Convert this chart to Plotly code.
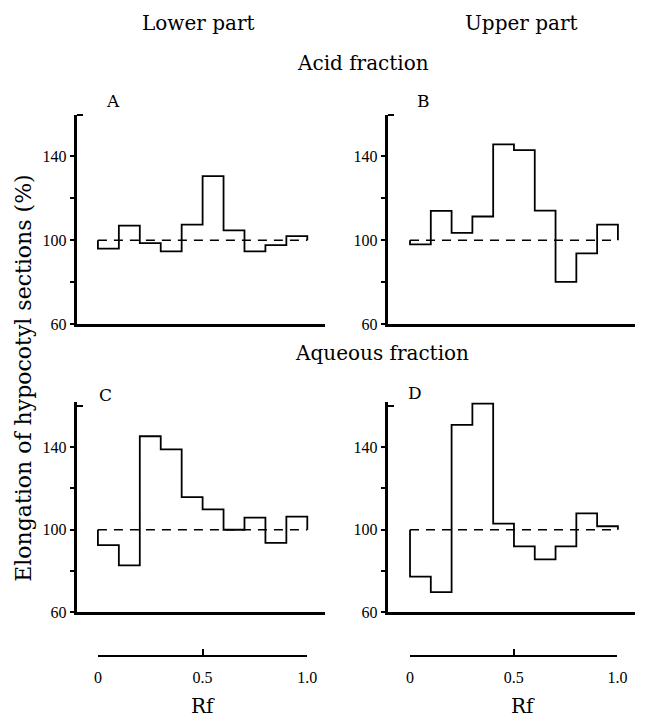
import plotly.graph_objects as go

# ---------------- data ----------------
rf_edges = [0.0, 0.1, 0.2, 0.3, 0.4, 0.5, 0.6, 0.7, 0.8, 0.9, 1.0]
control = 100

acid_lower = [96, 107, 98.6, 94.7, 107.4, 130.6, 104.7, 94.7, 97.6, 101.9]      # A
acid_upper = [98, 114, 103.5, 111.3, 145.8, 143, 114.1, 80.1, 93.7, 107.4]      # B
aqueous_lower = [92.5, 82.7, 145.3, 138.9, 115.8, 109.9, 100, 105.9, 93.6, 106.4]  # C
aqueous_upper = [77.3, 69.8, 150.8, 161.1, 103, 91.9, 85.6, 91.9, 107.9, 101.7]   # D

y_tickvals = [60, 80, 100, 120, 140]
y_ticktext = ["60", "", "100", "", "140"]
rf_tickvals = [0, 0.5, 1.0]
rf_ticktext = ["0", "0.5", "1.0"]

W, H = 647, 725
def px(x):
    return x / W
def py(y):
    return 1 - y / H

SERIF = "DejaVu Serif"
TICKFONT = dict(family="Liberation Serif", size=16, color="black")

fig = go.Figure()

panels = [
    (acid_lower, "x", "y"),
    (acid_upper, "x2", "y2"),
    (aqueous_lower, "x3", "y3"),
    (aqueous_upper, "x4", "y4"),
]

for vals, xa, ya in panels:
    sx = [rf_edges[0]] + rf_edges[:-1] + [rf_edges[-1], rf_edges[-1]]
    sy = [control] + list(vals) + [vals[-1], control]
    fig.add_trace(go.Scatter(x=[rf_edges[0], rf_edges[-1]], y=[control, control],
                             mode="lines", line=dict(color="black", width=1.6, dash="9px,7px"),
                             xaxis=xa, yaxis=ya, hoverinfo="skip"))
    fig.add_trace(go.Scatter(x=sx, y=sy, mode="lines", line_shape="hv",
                             line=dict(color="black", width=1.8),
                             xaxis=xa, yaxis=ya, cliponaxis=False, hoverinfo="skip"))

# invisible traces for the Rf scales
for xa, ya in [("x5", "y5"), ("x6", "y6")]:
    fig.add_trace(go.Scatter(x=[rf_edges[0], rf_edges[-1]], y=[0, 0], mode="markers",
                             marker=dict(opacity=0), xaxis=xa, yaxis=ya, hoverinfo="skip"))

def xaxis_main(domain, rng, anchor):
    return dict(domain=domain, range=rng, anchor=anchor, showline=True, linewidth=2.6,
                linecolor="black", showticklabels=False, ticks="", showgrid=False,
                zeroline=False, fixedrange=True)

def yaxis_main(domain, anchor, top=160):
    return dict(domain=domain, range=[60, top], anchor=anchor, showline=True, linewidth=2.6,
                linecolor="black", ticks="outside", ticklen=5, tickwidth=1.5, tickcolor="black",
                tickvals=y_tickvals, ticktext=y_ticktext, tickfont=TICKFONT,
                showgrid=False, zeroline=False, fixedrange=True,
                minor=dict(tickmode="array", tickvals=[160], ticks="inside", ticklen=6,
                           tickwidth=2, tickcolor="black", showgrid=False))

left_dom = [px(75), px(328)]
right_dom = [px(393), px(645)]
left_rng = [-0.0981, 1.0841]
right_rng = [-0.1035, 1.0824]
top_dom = [py(328), py(116)]
# bottom panels: 60 -> 620 px, 160 -> 411 px; range extended slightly so the D peak shows
bot_top = 162
bot_dom = [py(620), py(620 - (bot_top - 60) * 2.09)]

rf_y = py(663)

def rf_axis(domain, anchor):
    return dict(domain=domain, range=[0, 1], anchor=anchor, showline=True, linewidth=2.2,
                linecolor="black", ticks="inside", ticklen=6, tickwidth=1.8, tickcolor="black",
                tickvals=rf_tickvals, ticktext=rf_ticktext, tickfont=TICKFONT,
                ticklabelstandoff=7,
                showgrid=False, zeroline=False, fixedrange=True)

hidden_y = dict(domain=[rf_y, rf_y + 0.01], visible=False, fixedrange=True, range=[0, 1])

fig.update_layout(
    width=W, height=H, margin=dict(l=0, r=0, t=0, b=0),
    paper_bgcolor="white", plot_bgcolor="white", showlegend=False,
    xaxis=xaxis_main(left_dom, left_rng, "y"),
    yaxis=yaxis_main(top_dom, "x"),
    xaxis2=xaxis_main(right_dom, right_rng, "y2"),
    yaxis2=yaxis_main(top_dom, "x2"),
    xaxis3=xaxis_main(left_dom, left_rng, "y3"),
    yaxis3=yaxis_main(bot_dom, "x3", bot_top),
    xaxis4=xaxis_main(right_dom, right_rng, "y4"),
    yaxis4=yaxis_main(bot_dom, "x4", bot_top),
    xaxis5=rf_axis([px(96), px(310)], "y5"),
    yaxis5=hidden_y,
    xaxis6=rf_axis([px(415), px(627)], "y6"),
    yaxis6=dict(hidden_y),
)

def ann(text, x, y, size=20, angle=0, family=SERIF):
    fig.add_annotation(text=text, x=px(x), y=py(y), xref="paper", yref="paper",
                       xanchor="center", yanchor="middle", showarrow=False, textangle=angle,
                       font=dict(family=family, size=size, color="black"))

ann("Lower part", 199, 23)
ann("Upper part", 529, 23)
ann("Acid fraction", 367, 64)
ann("Aqueous fraction", 386, 357)
ann("A", 111, 102, size=17)
ann("B", 429, 102, size=17)
ann("C", 104, 400, size=17)
ann("D", 420, 398, size=17)
ann("Elongation of hypocotyl sections (%)", 20, 383, size=22, angle=-90)
ann("Rf", 203, 715)
ann("Rf", 530, 715)

fig.write_html("out.html")
